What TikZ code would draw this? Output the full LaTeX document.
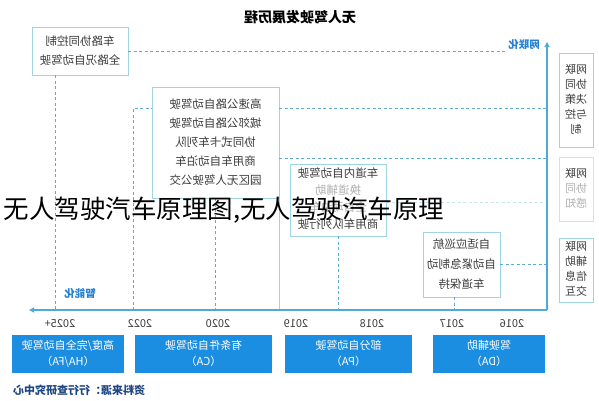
\documentclass[tikz,border=0pt]{standalone}
\usepackage{fontspec}
\setmainfont{Noto Sans CJK SC}
\usepackage{graphicx}
\usetikzlibrary{arrows.meta}
\definecolor{boxc}{RGB}{160,212,226}
\definecolor{boxfaint}{RGB}{200,228,236}
\definecolor{linec}{RGB}{95,172,210}
\definecolor{axisc}{RGB}{80,170,215}
\definecolor{bluec}{RGB}{28,142,226}
\definecolor{labc}{RGB}{40,130,210}
\definecolor{srcc}{RGB}{30,70,130}
\definecolor{textc}{RGB}{60,60,60}
\definecolor{fadec}{RGB}{175,175,175}
\newcommand\mt[1]{\reflectbox{\begin{tabular}{@{}c@{}}#1\end{tabular}}}
\begin{document}
\begin{tikzpicture}[x=1pt,y=-1pt,
  box/.style={draw=boxc, line width=0.9pt, fill=white, inner sep=0pt, text=textc, font=\fontsize{11.5}{19}\selectfont},
  rbox/.style={box, minimum width=34pt, font=\fontsize{11}{15}\selectfont},
  bbox/.style={fill=bluec, inner sep=0pt, text=white, font=\fontsize{11}{16}\selectfont},
  dline/.style={draw=linec, dash pattern=on 3pt off 2.5pt, line width=0.9pt},
  sline/.style={draw=boxc, line width=0.9pt},
  axis/.style={draw=axisc, line width=1.2pt},
  yr/.style={text=textc, font=\fontsize{11}{13}\selectfont},
  lab/.style={text=labc, font=\fontsize{10.5}{12}\selectfont\bfseries}]
\useasboundingbox (0,0) rectangle (599,400);
\fill[white] (0,0) rectangle (599,400);

% title
\node[text=black, font=\fontsize{14}{16}\selectfont\bfseries] (title) at (300,17) {\reflectbox{无人驾驶发展历程}};

% axis coordinates
\coordinate (o) at (547,310);
\coordinate (ytop) at (547,42);
\coordinate (xend) at (29,310);
\coordinate (t25) at (55,310);
\coordinate (t22) at (133,310);
\coordinate (t20) at (215,310);
\coordinate (t19) at (279,310);
\coordinate (t18) at (338,310);
\coordinate (t17) at (454,310);
\coordinate (yB) at (0,108);
\coordinate (yC) at (0,158);
\coordinate (yC2) at (0,202);

\node[lab] (netlab) at (524,45) {\reflectbox{网联化}};
\node[lab] (intlab) at (80,293) {\reflectbox{智能化}};

% boxes (define first, draw lines behind with on background trick by order)
\node[box, minimum width=96pt, minimum height=48pt] (boxA) at (80,51) {\mt{车路协同控制\\全路况自动驾驶}};
\node[box, minimum width=127pt, minimum height=111pt] (boxB) at (215.5,142.5) {\mt{高速公路自动驾驶\\城郊公路自动驾驶\\协同式卡车列队\\商用车自动泊车\\园区无人驾驶公交}};

% lines
\draw[dline] (boxA.east) -- (netlab.west |- boxA.east);
\draw[dline] (t25 |- boxA.south) -- (t25);
\draw[dline] (t22) -- (t22 |- yB) -- (boxB.west |- yB);
\draw[dline] (boxB.east |- yB) -- (o |- yB);
\draw[dline] (t20 |- boxB.south) -- (t20);
\draw[sline] (t19 |- boxB.south) -- (t19);
\draw[dline] (boxB.east |- yC) -- (o |- yC);

\node[box, minimum width=96pt, minimum height=72pt, font=\fontsize{11.5}{17}\selectfont] (boxC) at (338,200) {\mt{车道内自动驾驶\\\textcolor{fadec}{换道辅助}\\\textcolor{fadec}{全自动泊车}\\商用车队列行驶}};
\node[box, minimum width=77pt, minimum height=65pt, font=\fontsize{11.5}{20}\selectfont] (boxD) at (461.5,264.5) {\mt{自适应巡航\\自动紧急制动\\车道保持}};

\draw[dline, draw=boxfaint] (boxC.east |- yC2) -- (o |- yC2);
\draw[dline] (t18 |- boxC.south) -- (t18);
\draw[dline] (boxD.east) -- (o |- boxD.east);
\draw[dline] (t17 |- boxD.south) -- (t17);

% axes
\draw[axis, -{Triangle[length=5pt,width=5pt]}] (o) -- (ytop);
\draw[axis, -{Triangle[length=5pt,width=5pt]}] (o) -- (xend);

% right boxes
\node[rbox, minimum height=94pt] (r1) at (576,100) {\mt{网联\\协同\\决策\\与控\\制}};
\node[rbox, draw=boxfaint, minimum height=64pt] (r2) at (576,189) {\mt{网联\\\textcolor{fadec}{协同}\\\textcolor{fadec}{感知}}};
\node[rbox, minimum height=64pt] (r3) at (576,270) {\mt{网联\\辅助\\信息\\交互}};

% years
\node[yr] (y25) at (60,324) {\reflectbox{2025+}};
\node[yr] (y22) at (140,324) {\reflectbox{2022}};
\node[yr] (y20) at (218,324) {\reflectbox{2020}};
\node[yr] (y19) at (296,324) {\reflectbox{2019}};
\node[yr] (y18) at (372,324) {\reflectbox{2018}};
\node[yr] (y17) at (452,324) {\reflectbox{2017}};
\node[yr] (y16) at (512,324) {\reflectbox{2016}};

% bottom blue boxes
\node[bbox, minimum width=112pt, minimum height=38pt] (da) at (489,354) {\mt{驾驶辅助\\（DA）}};
\node[bbox, minimum width=127pt, minimum height=38pt] (pa) at (348.5,354) {\mt{部分自动驾驶\\（PA）}};
\node[bbox, minimum width=137pt, minimum height=38pt] (ca) at (203.5,354) {\mt{有条件自动驾驶\\（CA）}};
\node[bbox, minimum width=112pt, minimum height=38pt] (ha) at (68,354) {\mt{高度/完全自动驾驶\\（HA/FA）}};

% source
\node[text=srcc, font=\fontsize{11}{13}\selectfont\bfseries] (src) at (79,390) {\reflectbox{资料来源：行行查研究中心}};

% overlay caption
\node[text=black, font=\fontsize{25.5}{28}\selectfont, inner sep=0pt] (cap) at (224,210) {无人驾驶汽车原理图,无人驾驶汽车原理};
\end{tikzpicture}
\end{document}
